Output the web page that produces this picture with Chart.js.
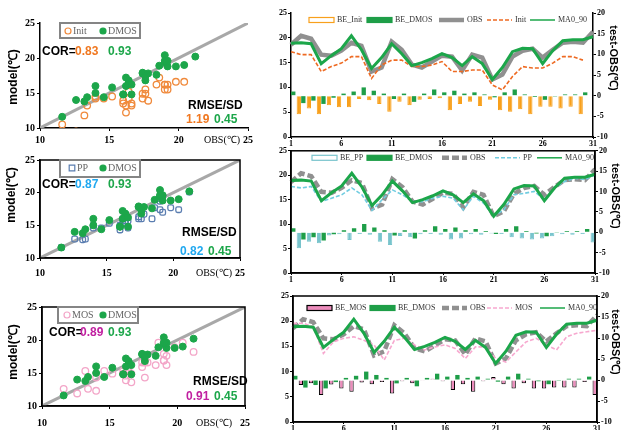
<!DOCTYPE html>
<html>
<head>
<meta charset="utf-8">
<script src="https://cdn.jsdelivr.net/npm/chart.js@4.4.0/dist/chart.umd.min.js"></script>
<style>
body{margin:0;background:#fff;width:630px;height:430px;position:relative;overflow:hidden}
canvas{position:absolute}
</style>
</head>
<body>
<canvas id="s1" width="258" height="148" style="left:0;top:0"></canvas>
<canvas id="s2" width="258" height="135" style="left:0;top:145px"></canvas>
<canvas id="s3" width="258" height="150" style="left:0;top:280px"></canvas>
<canvas id="r1" width="370" height="150" style="left:260px;top:0"></canvas>
<canvas id="r2" width="370" height="140" style="left:260px;top:145px"></canvas>
<canvas id="r3" width="370" height="145" style="left:260px;top:285px"></canvas>
<script>
// days of the month
const days=['1','2','3','4','5','6','7','8','9','10','11','12','13','14','15','16','17','18','19','20','21','22','23','24','25','26','27','28','29','30','31']
const obs=[18.6,20.4,19.8,16.6,16.4,17.4,19.0,18.4,13.2,14.0,19.2,17.6,14.6,14.0,15.2,16.4,16.2,13.4,16.6,16.0,11.6,12.6,16.2,17.4,17.8,16.0,17.6,19.0,19.2,19.0,21.2]
const dmos=[18.9,19.0,18.8,14.8,16.4,17.8,20.4,17.6,13.8,16.0,18.8,16.8,14.4,15.0,15.8,16.8,16.0,14.4,16.2,14.8,11.6,14.0,17.2,17.9,17.8,14.8,17.4,19.4,19.6,19.6,20.2]
const init=[17.2,16.6,16.6,13.2,14.2,14.9,16.2,16.2,11.8,14.5,15.5,15.5,14.2,14.2,14.5,15.2,13.2,13.2,13.5,13.5,10.5,9.5,12.2,14.2,13.9,13.9,14.9,16.2,16.2,15.5,null]
const pp=[17.7,17.4,17.7,14.6,15.3,16.0,17.4,16.0,12.8,15.0,17.0,16.0,14.6,14.6,15.3,15.7,15.3,12.9,15.7,14.3,11.6,12.9,16.0,16.3,16.7,15.0,17.4,18.7,19.4,19.1,20.1]
const mos=[19.6,19.6,18.9,13.6,15.9,16.6,16.9,16.2,15.3,12.3,16.2,16.6,15.3,14.3,14.9,15.3,14.6,12.6,14.9,14.9,12.6,11.9,13.9,15.9,16.6,15.3,14.3,16.9,17.6,17.9,18.2]
// bias bars (test - OBS), right axis
const beInit=[-1.0,-4.5,-3.1,-4.5,-2.3,-2.8,-2.8,-0.8,-1.1,-2.0,-3.9,-1.5,-2.3,-1.0,-0.8,-0.6,-3.5,-2.0,-1.5,-2.5,-1.0,-3.5,-3.9,-3.3,-4.5,-2.7,-2.7,-3.1,-2.7,-4.5,null]
const beDmos=[1.0,-1.8,-1.2,-2.0,-0.5,0.5,1.0,2.0,1.2,0.5,-0.8,0.5,-1.5,0.5,1.5,0.8,1.2,0.5,0.8,0.3,-0.4,0.8,1.5,0.3,-0.3,-1.0,-0.2,0.3,0.3,0.8,-1.5]
const bePp=[-0.6,-3.9,-2.3,-2.7,-0.8,-0.5,-1.9,-0.4,-0.6,-2.3,-3.1,-0.9,-1.2,-0.5,-0.4,-0.6,-1.8,-1.5,-0.5,-0.6,-0.3,-0.4,-1.2,-1.5,-1.8,-1.5,-1.0,-0.5,-0.6,-0.4,-2.5]
const beMos=[-0.5,-1.2,-0.8,-3.6,-1.1,-2.0,-2.8,-0.6,-1.0,-0.5,-3.2,-0.3,-0.8,-0.2,0.3,-0.3,-2.4,-1.0,-2.8,-0.3,0.7,-1.0,-2.0,-0.8,-2.0,-2.0,-1.8,-1.8,-1.8,-0.5,-3.6]
const diag=[10,25]
const corText=[['0.83','0.93'],['0.87','0.93'],['0.89','0.93']]
const rmseText=[['1.19','0.45'],['0.82','0.45'],['0.91','0.45']]

const GREEN='#1ca64a'
const B12='bold 12px "Liberation Sans"'

const notesPlugin={
  id:'notes',
  afterDraw(chart,args,opts){
    const ctx=chart.ctx
    ;(opts.list||[]).forEach(n=>{
      ctx.save()
      ctx.font=n.f||B12
      ctx.fillStyle=n.c||'#000'
      ctx.textBaseline='middle'
      ctx.textAlign=n.a||'left'
      ctx.translate(n.x,n.y)
      if(n.r) ctx.rotate(n.r*Math.PI/180)
      ctx.fillText(n.t,0,0)
      ctx.restore()
    })
  }
}

const framePlugin={
  id:'frame',
  afterDraw(chart,args,opts){
    if(!opts.on) return
    const a=chart.chartArea,ctx=chart.ctx
    ctx.save()
    ctx.strokeStyle='#000'
    ctx.lineWidth=1.5
    ctx.strokeRect(a.left,a.top,a.right-a.left,a.bottom-a.top)
    ctx.restore()
  }
}

// legend drawn inside the plot
const legPlugin={
  id:'leg',
  afterDraw(chart,args,o){
    if(!o.xs) return
    const ctx=chart.ctx,a=chart.chartArea
    const y=a.top+o.y
    ctx.save()
    if(o.box){
      ctx.strokeStyle='#858585'
      ctx.lineWidth=2
      ctx.strokeRect(a.left+o.box[0],a.top+o.box[1],o.box[2]-o.box[0],o.box[3]-o.box[1])
    }
    ctx.font=o.font
    ctx.textBaseline='middle'
    let k=0
    chart.data.datasets.forEach(ds=>{
      if(!ds.leg) return
      const x=a.left+o.xs[k++]
      let tx=x+o.sym+3
      ctx.save()
      if(ds.leg=='bar'){
        ctx.fillStyle=ds.backgroundColor
        ctx.strokeStyle=ds.borderColor
        ctx.lineWidth=1.2
        if(!ds.legHollow) ctx.fillRect(x,y-2.5,o.sym,5)
        ctx.strokeRect(x,y-2.5,o.sym,5)
      }else if(ds.leg=='line'){
        ctx.strokeStyle=ds.borderColor
        ctx.lineWidth=ds.legW||ds.borderWidth
        ctx.setLineDash(ds.borderDash||[])
        ctx.beginPath();ctx.moveTo(x,y);ctx.lineTo(x+o.sym,y);ctx.stroke()
      }else{
        ctx.fillStyle=ds.pointBackgroundColor
        ctx.strokeStyle=ds.pointBorderColor
        ctx.lineWidth=1.2
        ctx.beginPath()
        if(ds.pointStyle=='rectRounded') ctx.rect(x-2.8,y-2.8,5.6,5.6)
        else ctx.arc(x,y,3,0,Math.PI*2)
        ctx.fill();ctx.stroke()
        tx=x+5
      }
      ctx.restore()
      ctx.fillStyle=o.color||'#333'
      ctx.fillText(ds.label,tx,y)
    })
    ctx.restore()
  }
}

function pairs(model){
  const out=[]
  for(let i=0;i<obs.length;i++){
    if(model[i]!=null) out.push({x:obs[i],y:model[i]})
  }
  return out
}

function scatter(id,p){
  const tickFont={family:'"Liberation Serif"',size:10,weight:'bold'}
  new Chart(id,{
    type:'scatter',
    data:{datasets:[
      {label:p.name,data:pairs(p.vals),pointStyle:p.shape,pointRadius:3.3,pointBorderWidth:1.3,
        pointBorderColor:p.color,pointBackgroundColor:'rgba(0,0,0,0)',leg:'pt',order:1},
      {label:'DMOS',data:pairs(dmos),pointStyle:'circle',pointRadius:3.5,pointBorderWidth:1,
        pointBorderColor:GREEN,pointBackgroundColor:GREEN,leg:'pt',order:0},
      {type:'line',data:diag.map(v=>({x:v,y:v})),borderColor:'#a8a8a8',borderWidth:3,pointRadius:0,order:3}
    ]},
    options:{
      responsive:false,animation:false,
      layout:{padding:{top:p.top,left:p.padL,right:p.padR,bottom:0}},
      scales:{
        x:{type:'linear',min:10,max:25,
          afterFit(s){s.height=p.xh},
          ticks:{stepSize:5,font:tickFont,color:'#000',padding:p.tp},
          grid:{drawOnChartArea:false,tickLength:3,color:'#000'},
          border:{color:'#000',width:1.5}},
        y:{min:10,max:25,
          afterFit(s){s.width=34},
          ticks:{stepSize:5,font:tickFont,color:'#000',padding:2},
          grid:{drawOnChartArea:false,tickLength:3,color:'#000'},
          border:{color:'#000',width:1.5}}
      },
      plugins:{
        legend:{display:false},tooltip:{enabled:false},
        frame:{on:p.frame},
        leg:{xs:p.legX,y:8,sym:0,font:'10px "Liberation Serif"',color:'#666',box:p.box},
        notes:{list:p.notes}
      }
    },
    plugins:[framePlugin,legPlugin,notesPlugin]
  })
}

function series(id,p){
  const tickFont={family:'"Liberation Serif"',size:8,weight:'bold'}
  const axis={
    grid:{drawOnChartArea:false,tickLength:3,color:'#000'},
    border:{color:'#000',width:1.5}
  }
  new Chart(id,{
    type:'bar',
    data:{labels:days,datasets:[
      {label:'BE_'+p.name,data:p.be,yAxisID:'y2',backgroundColor:p.barColor,borderColor:p.barBorder,
        borderWidth:p.barBW,leg:'bar',legHollow:p.hollow,categoryPercentage:0.9,barPercentage:0.95,order:4},
      {label:'BE_DMOS',data:beDmos,yAxisID:'y2',backgroundColor:'#1e9e48',borderColor:'#1e9e48',
        borderWidth:0,leg:'bar',categoryPercentage:0.9,barPercentage:0.95,order:5},
      {type:'line',label:'OBS',data:obs,borderColor:'#909090',borderWidth:4.5,borderDash:p.obsDash,
        pointRadius:0,leg:'line',order:2},
      {type:'line',label:p.name,data:p.vals,borderColor:p.lineColor,borderWidth:1.6,borderDash:[4,2],
        pointRadius:0,leg:'line',order:1},
      {type:'line',label:'MA0_90',data:dmos,borderColor:GREEN,borderWidth:3,legW:1.5,
        pointRadius:0,leg:'line',order:0}
    ]},
    options:{
      responsive:false,animation:false,
      layout:{padding:{top:p.top,left:0,right:p.padR,bottom:0}},
      scales:{
        x:{offset:false,
          afterFit(s){s.height=p.xh},
          grid:{drawOnChartArea:false,offset:false,tickLength:2,
            tickColor:c=>c.index%5==0?'#000':'rgba(0,0,0,0)'},
          border:{color:'#000',width:1.5},
          ticks:{autoSkip:false,maxRotation:0,padding:0,font:tickFont,color:'#000',
            callback:(v,i)=>i%5==0?days[i]:''}},
        y:{...axis,position:'left',min:0,max:25,
          afterFit(s){s.width=p.leftW},
          ticks:{stepSize:5,font:tickFont,color:'#000',padding:1}},
        y2:{...axis,position:'right',min:-10,max:20,
          afterFit(s){s.width=p.rightW},
          ticks:{stepSize:5,font:tickFont,color:'#000',padding:1}}
      },
      plugins:{
        legend:{display:false},tooltip:{enabled:false},
        frame:{on:p.frame},
        leg:{xs:p.legX,y:p.legY,sym:25,font:'8px "Liberation Serif"',color:'#333'},
        notes:{list:[{t:'test-OBS(℃)',x:p.tx,y:p.ty,r:90,a:'center',f:'bold 11px "Liberation Sans"'}]}
      }
    },
    plugins:[framePlugin,legPlugin,notesPlugin]
  })
}

scatter('s1',{name:'Init',vals:init,shape:'circle',color:'#f08a3c',top:23,padL:6,padR:10,xh:20,tp:3,frame:false,
  legX:[28,63],box:[20,0,100,15],
  notes:[
    {t:'model(℃)',x:14,y:77,r:-90,a:'center'},
    {t:'OBS(℃)',x:222,y:140,a:'center',f:'10px "Liberation Serif"'},
    {t:'COR=',x:42,y:52},
    {t:corText[0][0],x:75,y:52,c:'#f07820'},
    {t:corText[0][1],x:108,y:52,c:GREEN},
    {t:'RMSE/SD',x:188,y:106},
    {t:rmseText[0][0],x:186,y:120,c:'#f07820'},
    {t:rmseText[0][1],x:214,y:120,c:GREEN}
  ]})

scatter('s2',{name:'PP',vals:pp,shape:'rectRounded',color:'#5a7db0',top:15,padL:6,padR:18,xh:22,tp:6,frame:true,
  legX:[32,63],box:[20,0,100,17],
  notes:[
    {t:'model(℃)',x:12,y:50,r:-90,a:'center'},
    {t:'OBS(℃)',x:214,y:128,a:'center',f:'10px "Liberation Serif"'},
    {t:'COR=',x:42,y:40},
    {t:corText[1][0],x:75,y:40,c:'#20a8f0'},
    {t:corText[1][1],x:108,y:40,c:GREEN},
    {t:'RMSE/SD',x:182,y:88},
    {t:rmseText[1][0],x:180,y:107,c:'#20a8f0'},
    {t:rmseText[1][1],x:208,y:107,c:GREEN}
  ]})

scatter('s3',{name:'MOS',vals:mos,shape:'circle',color:'#f3a6c8',top:27,padL:8,padR:12,xh:24,tp:8,frame:true,
  legX:[25,61],box:[16,0,96,16],
  notes:[
    {t:'model(℃)',x:14,y:72,r:-90,a:'center'},
    {t:'OBS(℃)',x:214,y:143,a:'center',f:'10px "Liberation Serif"'},
    {t:'COR=',x:49,y:53},
    {t:corText[2][0],x:80,y:53,c:'#c020a0'},
    {t:corText[2][1],x:108,y:53,c:GREEN},
    {t:'RMSE/SD',x:193,y:102},
    {t:rmseText[2][0],x:186,y:117,c:'#c020a0'},
    {t:rmseText[2][1],x:214,y:117,c:GREEN}
  ]})

series('r1',{name:'Init',vals:init,be:beInit,barColor:'#f8a01c',barBorder:'#f8a01c',barBW:1,hollow:true,
  lineColor:'#ee6a22',obsDash:[],top:13,padR:10,leftW:31,rightW:27,xh:13,frame:false,
  legX:[18,76,148,196,239],legY:7,tx:353,ty:58})

series('r2',{name:'PP',vals:pp,be:bePp,barColor:'#78c4cc',barBorder:'#78c4cc',barBW:1,hollow:true,
  lineColor:'#70cce0',obsDash:[7,3],top:5,padR:10,leftW:31,rightW:25,xh:12,frame:true,
  legX:[21,76,151,204,246],legY:7,tx:355,ty:51})

series('r3',{name:'MOS',vals:mos,be:beMos,barColor:'#ec8cbc',barBorder:'#000',barBW:1,hollow:false,
  lineColor:'#f7a8cf',obsDash:[7,3],top:11,padR:8,leftW:33,rightW:25,xh:8,frame:true,
  legX:[14,77,149,194,247],legY:12,tx:355,ty:57})
</script>
</body>
</html>
